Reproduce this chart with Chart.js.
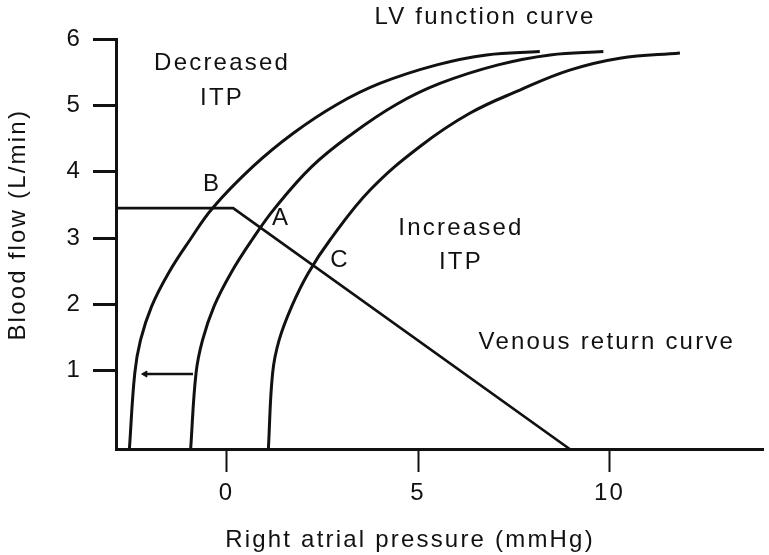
<!DOCTYPE html>
<html>
<head>
<meta charset="utf-8">
<script src="https://cdn.jsdelivr.net/npm/chart.js@4.4.1/dist/chart.umd.min.js"></script>
<style>
  html, body { margin: 0; padding: 0; background: #fff; }
</style>
</head>
<body>
<canvas id="chartCanvas" width="769" height="555"></canvas>
<script>
const xTicks = [0, 5, 10];
const yTicks = [1, 2, 3, 4, 5, 6];

// LV function curves (x = RAP mmHg, y = L/min)
const lvDecreasedX = [-2.54, -2.40, -2.25, -1.96, -1.52, -0.96, -0.37, 0.69, 1.74, 2.87, 4.00, 5.49, 6.79, 8.18];
const lvDecreasedY = [-0.18, 0.96, 1.46, 1.97, 2.47, 2.97, 3.45, 4.08, 4.58, 5.01, 5.33, 5.61, 5.76, 5.81];
const lvNormalX = [-0.94, -0.80, -0.63, -0.33, 0.11, 0.66, 1.26, 2.23, 3.30, 4.42, 5.57, 7.09, 8.45, 9.84];
const lvNormalY = [-0.18, 0.96, 1.46, 1.97, 2.47, 2.97, 3.45, 4.08, 4.58, 5.01, 5.33, 5.61, 5.76, 5.81];
const lvIncreasedX = [1.09, 1.20, 1.37, 1.70, 2.13, 2.70, 3.74, 5.05, 6.35, 7.66, 8.96, 10.27, 11.84];
const lvIncreasedY = [-0.18, 0.96, 1.46, 1.97, 2.47, 2.97, 3.72, 4.38, 4.88, 5.23, 5.53, 5.71, 5.79];

// venous return curve
const venousX = [-2.89, 0.17, 8.96];
const venousY = [3.45, 3.45, -0.18];

// small arrow between the two left curves
const arrowX = [-0.88, -2.13];
const arrowY = [0.95, 0.95];

// text on the plot
const labelTexts = ['LV function curve', 'Decreased', 'ITP', 'B', 'A', 'C', 'Increased', 'ITP', 'Venous return curve'];
const labelX = [6.75, -0.12, -0.12, -0.38, 1.42, 2.96, 6.12, 6.12, 9.93];
const labelY = [6.32, 5.64, 5.11, 3.81, 3.30, 2.67, 3.15, 2.64, 1.43];

const xTitle = 'Right atrial pressure (mmHg)';
const yTitle = 'Blood flow (L/min)';

const INK = '#111';
const FONT_FAMILY = '"Liberation Sans", Arial, sans-serif';
const FONT_SIZE = 24;

function toPoints(xs, ys) {
  return xs.map((x, i) => ({ x: x, y: ys[i] }));
}

function curve(xs, ys) {
  return {
    data: toPoints(xs, ys),
    showLine: true,
    borderColor: INK,
    borderWidth: 3,
    pointRadius: 0,
    fill: false,
    tension: 0.4
  };
}

const textPlugin = {
  id: 'textPlugin',
  beforeDraw(chart) {
    chart.ctx.letterSpacing = '2.2px';
  },
  afterDraw(chart) {
    const ctx = chart.ctx;
    const xs = chart.scales.x;
    const ys = chart.scales.y;
    ctx.save();
    ctx.font = FONT_SIZE + 'px ' + FONT_FAMILY;
    ctx.fillStyle = INK;
    ctx.textAlign = 'center';
    ctx.textBaseline = 'middle';
    labelTexts.forEach((t, i) => {
      ctx.fillText(t, xs.getPixelForValue(labelX[i]), ys.getPixelForValue(labelY[i]));
    });
    // axis titles
    ctx.fillText(xTitle, xs.getPixelForValue(4.79), chart.height - 15);
    ctx.translate(18, ys.getPixelForValue(3.2));
    ctx.rotate(-Math.PI / 2);
    ctx.fillText(yTitle, 0, 0);
    ctx.restore();
  }
};

const ctx = document.getElementById('chartCanvas').getContext('2d');

const config = {
  type: 'scatter',
  data: {
    datasets: [
      curve(lvDecreasedX, lvDecreasedY),
      curve(lvNormalX, lvNormalY),
      curve(lvIncreasedX, lvIncreasedY),
      {
        data: toPoints(venousX, venousY),
        showLine: true,
        borderColor: INK,
        borderWidth: 2.6,
        pointRadius: 0,
        tension: 0
      },
      {
        data: toPoints(arrowX, arrowY),
        showLine: true,
        borderColor: INK,
        backgroundColor: INK,
        borderWidth: 2.5,
        pointRadius: [0, 3.5],
        pointStyle: 'triangle',
        pointRotation: -90,
        pointBorderWidth: 1
      }
    ]
  },
  options: {
    responsive: false,
    animation: false,
    layout: { padding: { left: 0, top: 39, right: 6, bottom: 0 } },
    plugins: {
      legend: { display: false },
      tooltip: { enabled: false }
    },
    scales: {
      x: {
        type: 'linear',
        min: -2.89,
        max: 14.01,
        afterBuildTicks: s => { s.ticks = xTicks.map(v => ({ value: v })); },
        afterFit: s => { s.height = 106; },
        grid: {
          drawOnChartArea: false,
          drawTicks: true,
          tickLength: 23,
          tickWidth: 2,
          tickColor: INK,
          color: INK
        },
        border: { display: true, width: 3, color: INK },
        ticks: {
          color: INK,
          padding: 7,
          font: { family: FONT_FAMILY, size: FONT_SIZE }
        }
      },
      y: {
        type: 'linear',
        min: -0.18,
        max: 6,
        afterBuildTicks: s => { s.ticks = yTicks.map(v => ({ value: v })); },
        afterFit: s => { s.width = 116; },
        grid: {
          drawOnChartArea: false,
          drawTicks: true,
          tickLength: 23,
          tickWidth: 3,
          tickColor: INK,
          color: INK
        },
        border: { display: true, width: 3, color: INK },
        ticks: {
          color: INK,
          padding: 11,
          font: { family: FONT_FAMILY, size: FONT_SIZE }
        }
      }
    }
  },
  plugins: [textPlugin]
};

const myChart = new Chart(ctx, config);
</script>
</body>
</html>
